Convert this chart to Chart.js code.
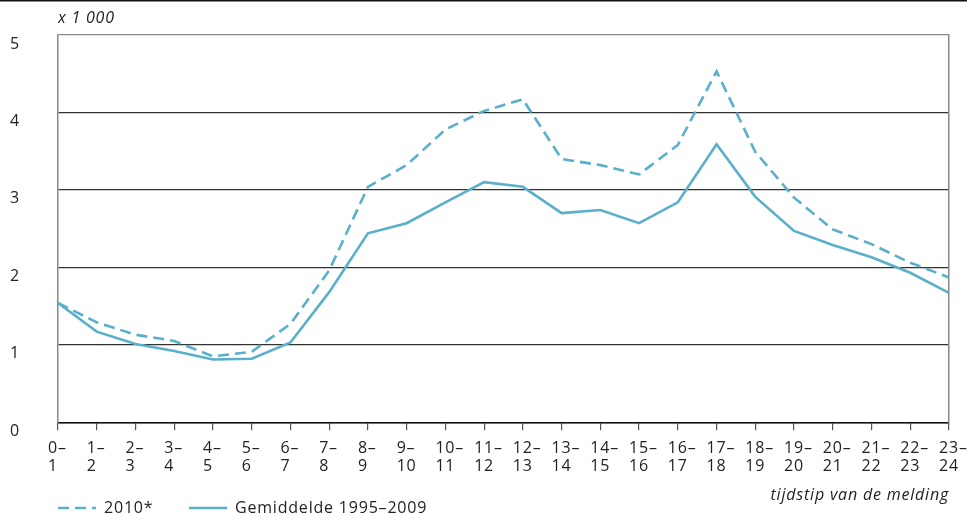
<!DOCTYPE html>
<html><head><meta charset="utf-8">
<script src="https://cdn.jsdelivr.net/npm/chart.js@4.4.1/dist/chart.umd.min.js"></script>
<style>html,body{margin:0;padding:0;background:#fff}#wrap{width:967px;height:515px;position:relative}</style>
</head><body><div id="wrap"><canvas id="c"></canvas></div>
<script>
const hourStart = ['0–','1–','2–','3–','4–','5–','6–','7–','8–','9–','10–','11–','12–','13–','14–','15–','16–','17–','18–','19–','20–','21–','22–','23–'];
const hourEnd = ['1','2','3','4','5','6','7','8','9','10','11','12','13','14','15','16','17','18','19','20','21','22','23','24'];
const series2010 = [1.54,1.29,1.13,1.05,0.85,0.91,1.27,1.96,3.04,3.32,3.78,4.02,4.17,3.40,3.32,3.20,3.58,4.53,3.49,2.90,2.49,2.30,2.06,1.87];
const seriesAvg = [1.54,1.17,1.01,0.92,0.81,0.82,1.03,1.68,2.44,2.57,2.84,3.10,3.04,2.70,2.74,2.57,2.84,3.59,2.91,2.47,2.29,2.13,1.93,1.67];
const yTicks = [0,1,2,3,4,5];
const seriesNames = ['2010*','Gemiddelde 1995–2009'];
const yUnit = 'x 1 000';
const xTitle = 'tijdstip van de melding';

const LINE = '#5aafca';
const FONT = 'Open Sans';
const FS = 16;
const SPACING = '0.8px';
const labels = hourStart.map((s,i)=>[s, hourEnd[i]]);

function setSpacing(chart){ try { chart.ctx.letterSpacing = SPACING; } catch(e){} }

const decor = {
  id:'decor',
  beforeInit: setSpacing,
  beforeUpdate: setSpacing,
  beforeLayout: setSpacing,
  beforeDraw: setSpacing,
  afterLayout(chart){
    const lg = chart.legend;
    if (lg) { const pad = lg.options.labels.padding; const w = lg.right - lg.left; lg.left = chart.chartArea.left - pad; lg.right = lg.left + w; }
  },
  afterDraw(chart){
    const ctx = chart.ctx;
    ctx.save();
    ctx.fillStyle = '#111';
    ctx.fillRect(0,0,chart.width,1.5);
    ctx.font = 'italic ' + FS + 'px "'+FONT+'"';
    ctx.fillStyle = '#222';
    ctx.textAlign = 'left';
    ctx.textBaseline = 'middle';
    ctx.fillText(yUnit, chart.chartArea.left, 18);
    ctx.restore();
  }
};

new Chart(document.getElementById('c'), {
  type:'line',
  data:{
    labels: labels,
    datasets:[
      {label: seriesNames[0], data: series2010, borderColor: LINE, backgroundColor: LINE, borderWidth: 2.6, borderDash:[11,6], pointRadius:0, tension:0, fill:false},
      {label: seriesNames[1], data: seriesAvg, borderColor: LINE, backgroundColor: LINE, borderWidth: 2.6, pointRadius:0, tension:0, fill:false}
    ]
  },
  options:{
    responsive:true, maintainAspectRatio:false, animation:false,
    layout:{padding:{top:35, right:18, left:0, bottom:-11}},
    font:{family: FONT, size:FS},
    plugins:{
      tooltip:{enabled:false},
      legend:{
        position:'bottom', align:'start',
        labels:{
          color:'#222', font:{family:FONT, size:FS}, padding:10,
          usePointStyle:true, pointStyle:'line', pointStyleWidth:38,
          generateLabels(chart){
            const items = Chart.defaults.plugins.legend.labels.generateLabels(chart);
            items.forEach((it,i)=>{
              const ds = chart.data.datasets[it.datasetIndex];
              it.pointStyle='line';
              it.lineDash = ds.borderDash || [];
              it.lineWidth = ds.borderWidth;
              it.strokeStyle = ds.borderColor;
              if(i<items.length-1) it.text = it.text + '\u2003\u2002';
            });
            return items;
          }
        }
      }
    },
    scales:{
      x:{
        grid:{drawOnChartArea:false, drawTicks:true, tickLength:8, color:'#555', lineWidth:1.2},
        border:{display:true, color:'#111', width:1.5},
        ticks:{color:'#222', font:{family:FONT, size:FS, lineHeight:1.07}, align:'start', labelOffset:-10, padding:10, maxRotation:0, autoSkip:false},
        title:{display:true, text:xTitle, align:'end', color:'#222', font:{family:FONT, size:FS, style:'italic', lineHeight:1.2}, padding:{top:1.6, bottom:-15.3}},
        afterFit(s){ s.paddingRight = 0; s.paddingLeft = 0; }
      },
      y:{
        min:0, max:5,
        afterBuildTicks(s){ s.ticks = yTicks.map(v=>({value:v})); },
        grid:{drawTicks:false, color:(c)=> c.tick && c.tick.value===5 ? '#8a8a8a' : '#333', lineWidth:1.3},
        border:{display:true, color:'#888', width:1.5},
        ticks:{color:'#222', font:{family:FONT, size:FS}, padding:38, labelOffset:9},
        afterFit(s){ s.width = 58; s.paddingTop = 0; s.paddingBottom = 0; }
      },
      y2:{
        position:'right', min:0, max:5,
        grid:{display:false, drawTicks:false},
        border:{display:true, color:'#888', width:1.5},
        ticks:{display:false},
        afterFit(s){ s.width = 0; s.paddingTop = 0; s.paddingBottom = 0; }
      }
    }
  },
  plugins:[decor]
});
</script>
</body></html>
